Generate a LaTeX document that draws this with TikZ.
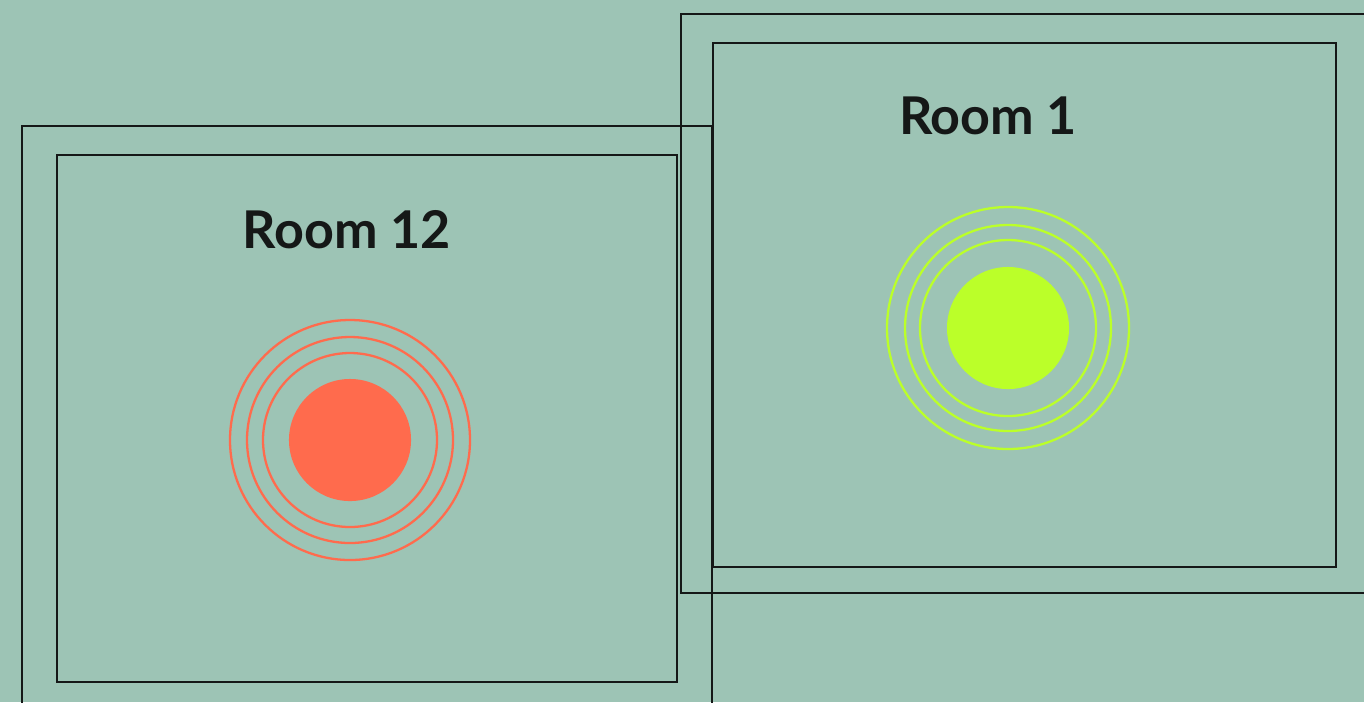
\documentclass[tikz,border=0pt]{standalone}
\usepackage{fontspec}
\setmainfont{Lato}
\usepackage{xcolor}
\usepackage{tikz}
\usetikzlibrary{positioning}

\definecolor{roombg}{HTML}{9DC4B5}
\definecolor{wallcol}{HTML}{151817}
\definecolor{alarmred}{HTML}{FF6B4D}
\definecolor{okgreen}{HTML}{BBFF29}

\begin{document}
\begin{tikzpicture}[
    x=0.01cm, y=-0.01cm,
    wall/.style={draw=wallcol, line width=0.7pt},
    roomlabel/.style={font=\fontsize{14.8pt}{16pt}\selectfont\bfseries, text=wallcol, inner sep=0pt},
    core/.style={circle, fill=#1, minimum size=1.22cm, inner sep=0pt},
    ring/.style={draw=#1, line width=0.65pt}
]

% canvas
\useasboundingbox[fill=roombg] (0,0) rectangle (1364,702);
\clip (0,0) rectangle (1364,702);

% Room 12
\draw[wall] (22,126) rectangle (712,720);
\draw[wall] (57,155) rectangle (677,682);
\node[roomlabel] (r12-title) at (347,230) {Room 12};
\node[core=alarmred] (r12-dot) at (350,440) {};
\foreach \r in {87,103,120}
    \draw[ring=alarmred] (r12-dot.center) circle (\r);

% Room 1
\draw[wall] (681,14) rectangle (1380,593);
\draw[wall] (713,43) rectangle (1336,567);
\node[roomlabel] (r1-title) at (988,116) {Room 1};
\node[core=okgreen] (r1-dot) at (1008,328) {};
\foreach \r in {88,103,121}
    \draw[ring=okgreen] (r1-dot.center) circle (\r);

\end{tikzpicture}
\end{document}
